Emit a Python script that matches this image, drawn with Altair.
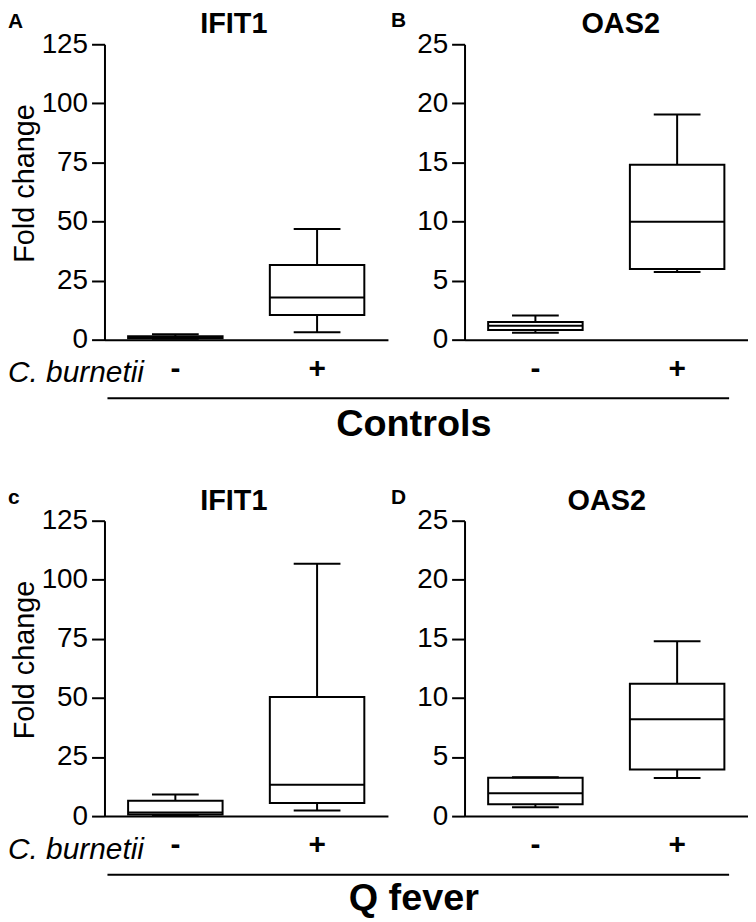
import altair as alt
import pandas as pd

FONT = "Liberation Sans"

groups = ["-", "+"]
panel_ids = ["A", "B", "C", "D"]
panel_letters = ["A", "B", "c", "D"]
panel_titles = ["IFIT1", "OAS2", "IFIT1", "OAS2"]
y_max = [125, 25, 125, 25]
y_step = [25, 5, 25, 5]
group_labels = ["Controls", "Q fever"]

# box statistics per panel: values for "-" and "+"
mins = {"A": [0.4, 3.1], "B": [0.59, 5.72], "C": [0.3, 2.4], "D": [0.75, 3.23]}
q1s = {"A": [0.6, 10.4], "B": [0.82, 5.98], "C": [0.7, 5.5], "D": [1.0, 3.95]}
medians = {"A": [1.0, 17.8], "B": [1.18, 9.98], "C": [1.5, 13.3], "D": [1.93, 8.2]}
q3s = {"A": [1.4, 31.6], "B": [1.49, 14.8], "C": [6.5, 50.4], "D": [3.25, 11.2]}
maxs = {"A": [2.3, 46.8], "B": [2.05, 19.05], "C": [9.1, 106.8], "D": [3.28, 14.8]}

W, H = 285, 297
BOX_W, CAP_W = 95, 47


def txt(text, x, y, size, weight="normal", style="normal", align="left", angle=0):
    return alt.Chart(pd.DataFrame({"t": [text]})).mark_text(
        font=FONT, fontSize=size, fontWeight=weight, fontStyle=style,
        align=align, baseline="alphabetic", angle=angle, color="black",
    ).encode(text="t:N", x=alt.value(x), y=alt.value(y))


def panel(i):
    pid = panel_ids[i]
    df = pd.DataFrame({
        "group": groups, "min": mins[pid], "q1": q1s[pid],
        "median": medians[pid], "q3": q3s[pid], "max": maxs[pid],
    })
    xs = alt.Scale(domain=groups, paddingInner=0, paddingOuter=0)
    ys = alt.Scale(domain=[0, y_max[i]], nice=False, zero=True)
    x_axis = alt.Axis(
        title=None, labelAngle=0, ticks=False, tickSize=0, labelFontSize=30,
        labelFontWeight="bold", labelPadding=14, domainWidth=2,
        domainColor="black", labelColor="black", labelFont=FONT,
    )
    y_axis = alt.Axis(
        title=None, values=list(range(0, y_max[i] + 1, y_step[i])), tickSize=13,
        tickWidth=2, tickColor="black", domainWidth=2, domainColor="black",
        labelFontSize=28, labelPadding=4, labelColor="black", labelFont=FONT,
        grid=False,
    )
    X = alt.X("group:N", scale=xs, axis=x_axis, sort=groups)

    def Y(f):
        return alt.Y(f + ":Q", scale=ys, axis=y_axis)

    base = alt.Chart(df)
    whisk_lo = base.mark_rule(color="black", strokeWidth=2).encode(x=X, y=Y("min"), y2="q1:Q")
    whisk_hi = base.mark_rule(color="black", strokeWidth=2).encode(x=X, y=Y("q3"), y2="max:Q")
    box = base.mark_bar(size=BOX_W, fill="white", stroke="black", strokeWidth=2).encode(
        x=X, y=Y("q1"), y2="q3:Q")
    med = base.mark_tick(size=BOX_W, thickness=2, color="black", opacity=1).encode(x=X, y=Y("median"))
    cap_lo = base.mark_tick(size=CAP_W, thickness=2, color="black", opacity=1).encode(x=X, y=Y("min"))
    cap_hi = base.mark_tick(size=CAP_W, thickness=2, color="black", opacity=1).encode(x=X, y=Y("max"))

    layers = [whisk_lo, whisk_hi, box, med, cap_lo, cap_hi]
    left = i % 2 == 0
    top = i < 2
    if left:
        layers.append(txt(panel_letters[i], -97, -16 if top else -17, 21, "bold"))
        layers.append(txt(panel_titles[i], 130, -11, 29, "bold", align="center"))
        layers.append(txt("Fold change", -71, 140, 29, align="center", angle=270))
        layers.append(txt("C. burnetii", -97, 340, 30, style="italic"))
        layers.append(
            alt.Chart(pd.DataFrame({"a": [0]})).mark_rule(color="black", strokeWidth=2)
            .encode(x=alt.value(3), x2=alt.value(628), y=alt.value(356))
        )
        layers.append(txt(group_labels[0 if top else 1], 311, 394 if top else 391, 38, "bold", align="center"))
    else:
        layers.append(txt(panel_letters[i], -74, -17, 21, "bold"))
        layers.append(txt(panel_titles[i], 157 if top else 143, -11, 29, "bold", align="center"))
    return alt.layer(*layers).properties(width=W, height=H)


chart = alt.ConcatChart(
    concat=[panel(i) for i in range(4)],
    columns=2,
    spacing={"row": 182, "column": 77},
    bounds="flush",
    padding=0,
    background="white",
).configure_view(stroke=None)

chart.save("out.html", embed_options={"renderer": "svg", "actions": False})
